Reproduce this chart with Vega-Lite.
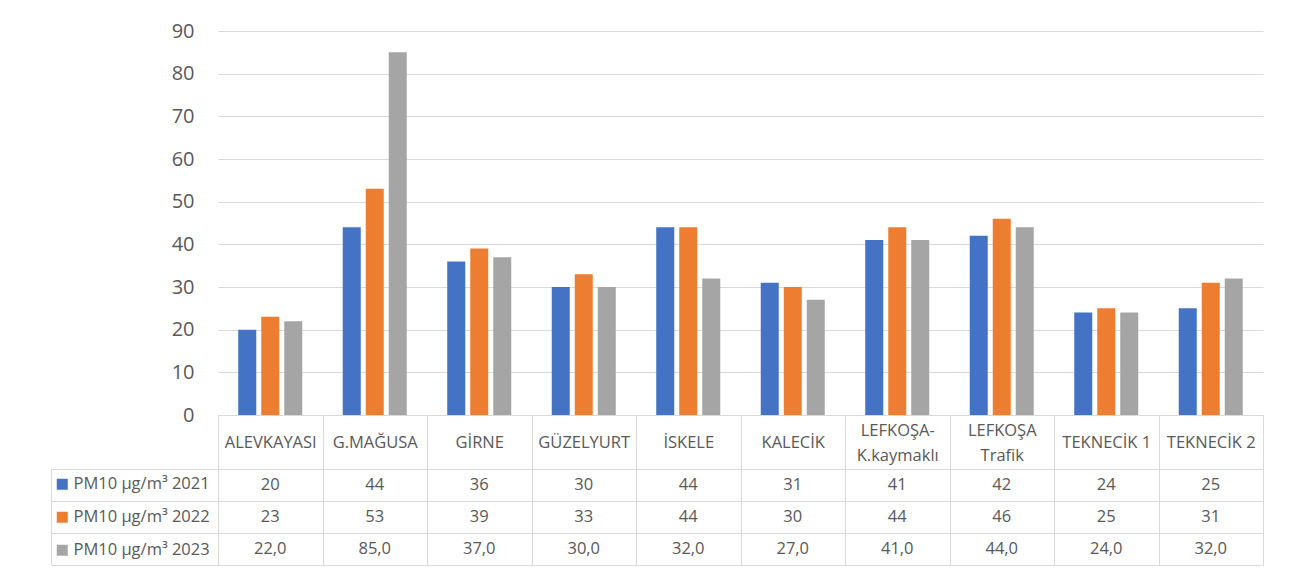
{
  "$schema": "https://vega.github.io/schema/vega-lite/v6.json",
  "padding": {"left": 50, "top": 21, "right": 5, "bottom": 5},
  "background": "white",
  "config": {
    "font": "Open Sans",
    "locale": {"number": {"decimal": ",", "thousands": ".", "grouping": [3], "currency": ["", ""]}},
    "legend": {"padding": 0}
  },
  "data": {"values": [
    {"station": "ALEVKAYASI", "series": "PM10 µg/m³ 2021", "value": 20},
    {"station": "G.MAĞUSA", "series": "PM10 µg/m³ 2021", "value": 44},
    {"station": "GİRNE", "series": "PM10 µg/m³ 2021", "value": 36},
    {"station": "GÜZELYURT", "series": "PM10 µg/m³ 2021", "value": 30},
    {"station": "İSKELE", "series": "PM10 µg/m³ 2021", "value": 44},
    {"station": "KALECİK", "series": "PM10 µg/m³ 2021", "value": 31},
    {"station": "LEFKOŞA-K.kaymaklı", "series": "PM10 µg/m³ 2021", "value": 41},
    {"station": "LEFKOŞA Trafik", "series": "PM10 µg/m³ 2021", "value": 42},
    {"station": "TEKNECİK 1", "series": "PM10 µg/m³ 2021", "value": 24},
    {"station": "TEKNECİK 2", "series": "PM10 µg/m³ 2021", "value": 25},
    {"station": "ALEVKAYASI", "series": "PM10 µg/m³ 2022", "value": 23},
    {"station": "G.MAĞUSA", "series": "PM10 µg/m³ 2022", "value": 53},
    {"station": "GİRNE", "series": "PM10 µg/m³ 2022", "value": 39},
    {"station": "GÜZELYURT", "series": "PM10 µg/m³ 2022", "value": 33},
    {"station": "İSKELE", "series": "PM10 µg/m³ 2022", "value": 44},
    {"station": "KALECİK", "series": "PM10 µg/m³ 2022", "value": 30},
    {"station": "LEFKOŞA-K.kaymaklı", "series": "PM10 µg/m³ 2022", "value": 44},
    {"station": "LEFKOŞA Trafik", "series": "PM10 µg/m³ 2022", "value": 46},
    {"station": "TEKNECİK 1", "series": "PM10 µg/m³ 2022", "value": 25},
    {"station": "TEKNECİK 2", "series": "PM10 µg/m³ 2022", "value": 31},
    {"station": "ALEVKAYASI", "series": "PM10 µg/m³ 2023", "value": 22},
    {"station": "G.MAĞUSA", "series": "PM10 µg/m³ 2023", "value": 85},
    {"station": "GİRNE", "series": "PM10 µg/m³ 2023", "value": 37},
    {"station": "GÜZELYURT", "series": "PM10 µg/m³ 2023", "value": 30},
    {"station": "İSKELE", "series": "PM10 µg/m³ 2023", "value": 32},
    {"station": "KALECİK", "series": "PM10 µg/m³ 2023", "value": 27},
    {"station": "LEFKOŞA-K.kaymaklı", "series": "PM10 µg/m³ 2023", "value": 41},
    {"station": "LEFKOŞA Trafik", "series": "PM10 µg/m³ 2023", "value": 44},
    {"station": "TEKNECİK 1", "series": "PM10 µg/m³ 2023", "value": 24},
    {"station": "TEKNECİK 2", "series": "PM10 µg/m³ 2023", "value": 32}
  ]},
  "vconcat": [
    {
      "width": 1045,
      "height": 384,
      "view": {"stroke": null},
      "mark": {"type": "bar"},
      "encoding": {
        "x": {
          "field": "station", "type": "nominal", "sort": null, "title": null,
          "scale": {"paddingInner": 0, "paddingOuter": 0},
          "axis": {
            "orient": "bottom", "domain": true, "domainColor": "#d9d9d9", "ticks": true,
            "tickBand": "extent", "tickSize": 54, "tickColor": "#d9d9d9",
            "labelAngle": 0, "labelFontSize": 16.5, "labelColor": "#595959",
            "labelPadding": {"condition": {"test": "datum.value == 'LEFKOŞA-K.kaymaklı' || datum.value == 'LEFKOŞA Trafik'", "value": -39}, "value": -27},
            "labelBaseline": "middle", "labelLineHeight": 25,
            "labelExpr": "datum.label == 'LEFKOŞA-K.kaymaklı' ? ['LEFKOŞA-', 'K.kaymaklı'] : datum.label == 'LEFKOŞA Trafik' ? ['LEFKOŞA', 'Trafik'] : datum.label",
            "grid": false
          }
        },
        "xOffset": {"field": "series", "type": "nominal", "scale": {"paddingInner": 0.217, "paddingOuter": 0.88}},
        "y": {
          "field": "value", "type": "quantitative", "title": null,
          "scale": {"domain": [0, 90], "nice": false},
          "axis": {
            "values": [0, 10, 20, 30, 40, 50, 60, 70, 80, 90],
            "domain": false, "ticks": false, "grid": true, "gridColor": "#d9d9d9",
            "labelFontSize": 20, "labelColor": "#595959", "labelPadding": 24
          }
        },
        "color": {
          "field": "series", "type": "nominal",
          "scale": {"range": ["#4472C4", "#ED7D31", "#A5A5A5"]},
          "legend": {
            "orient": "none", "legendX": -164, "legendY": 445, "title": null,
            "symbolType": "square", "symbolSize": 121, "symbolStrokeWidth": 0,
            "labelFontSize": 16.5, "labelColor": "#595959", "labelOffset": 3,
            "rowPadding": 16, "labelLimit": 0
          }
        }
      }
    },
    {
      "width": 1045,
      "height": 96,
      "view": {"stroke": "#d9d9d9"},
      "encoding": {
        "x": {
          "field": "station", "type": "nominal", "sort": null, "title": null,
          "scale": {"paddingInner": 0, "paddingOuter": 0},
          "axis": {"orient": "top", "domain": false, "ticks": false, "labels": false, "grid": true, "tickBand": "extent", "gridColor": "#d9d9d9"}
        },
        "y": {
          "field": "series", "type": "nominal", "title": null,
          "scale": {"paddingInner": 0, "paddingOuter": 0},
          "axis": {"orient": "left", "offset": 167, "domain": true, "domainColor": "#d9d9d9", "ticks": true, "tickBand": "extent", "tickSize": -167, "tickColor": "#d9d9d9", "labels": false, "grid": true, "gridColor": "#d9d9d9"}
        }
      },
      "layer": [
        {
          "transform": [{"filter": "datum.series != 'PM10 µg/m³ 2023'"}],
          "mark": {"type": "text", "fontSize": 16.5, "color": "#595959", "baseline": "middle"},
          "encoding": {"text": {"field": "value", "type": "quantitative", "format": "d"}}
        },
        {
          "transform": [{"filter": "datum.series == 'PM10 µg/m³ 2023'"}],
          "mark": {"type": "text", "fontSize": 16.5, "color": "#595959", "baseline": "middle"},
          "encoding": {"text": {"field": "value", "type": "quantitative", "format": ".1f"}}
        }
      ]
    }
  ],
  "spacing": 54,
  "bounds": "flush"
}
